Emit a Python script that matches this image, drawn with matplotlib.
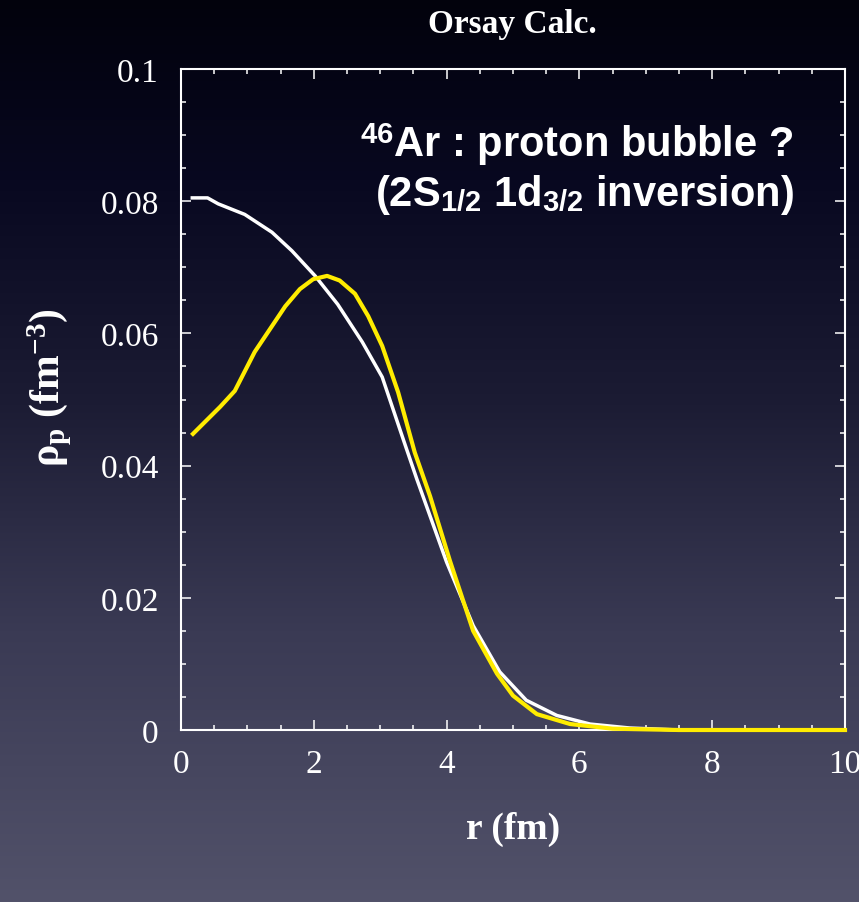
import numpy as np
import matplotlib
matplotlib.use("Agg")
from matplotlib import pyplot as plt
from matplotlib.ticker import MultipleLocator

# radial proton density
r_white = [0.17, 0.4, 0.56, 0.96, 1.37, 1.67, 2.02, 2.36, 2.73, 3.03, 3.38,
           3.55, 4.0, 4.4, 4.8, 5.2, 5.66, 6.16, 6.76, 7.5, 8.5, 10.0]
rho_white = [0.0805, 0.0805, 0.0796, 0.078, 0.0753, 0.0725, 0.0687, 0.0644,
             0.0587, 0.0534, 0.043, 0.038, 0.0254, 0.0158, 0.0088, 0.0045,
             0.0022, 0.0009, 0.0003, 0.0, 0.0, 0.0]

r_yellow = [0.18, 0.59, 0.81, 1.11, 1.37, 1.57, 1.79, 1.99, 2.2, 2.39, 2.62,
            2.82, 3.03, 3.27, 3.52, 3.75, 4.05, 4.4, 4.76, 5.0, 5.36, 5.86,
            6.5, 7.5, 10.0]
rho_yellow = [0.0448, 0.0489, 0.0513, 0.0572, 0.0611, 0.0641, 0.0667, 0.0682,
              0.0687, 0.068, 0.066, 0.0626, 0.0581, 0.0511, 0.042, 0.0354,
              0.0256, 0.0150, 0.0085, 0.0052, 0.0024, 0.0009, 0.0002, 0.0, 0.0]

x_ticks = [0, 2, 4, 6, 8, 10]
y_ticks = [0, 0.02, 0.04, 0.06, 0.08, 0.1]
y_tick_labels = ["0", "0.02", "0.04", "0.06", "0.08", "0.1"]

plt.rcParams["mathtext.fontset"] = "custom"
plt.rcParams["mathtext.rm"] = "Liberation Serif:bold"
plt.rcParams["mathtext.it"] = "Liberation Serif:bold"
plt.rcParams["mathtext.bf"] = "Liberation Serif:bold"
plt.rcParams["mathtext.sf"] = "Liberation Sans:bold"

W, H = 859, 903
fig = plt.figure(figsize=(W / 100, H / 100), dpi=100)

# keynote style background gradient (top dark navy -> bottom grey blue)
bg = fig.add_axes([0, 0, 1, 1], zorder=-10)
pos = [0.0, 0.2, 0.45, 0.7, 1.0]
cols = np.array([[2, 2, 12], [8, 8, 32], [28, 28, 52], [58, 58, 84], [82, 82, 106]]) / 255
t = np.linspace(0, 1, H)
grad = np.stack([np.interp(t, pos, cols[:, k]) for k in range(3)], axis=-1)
bg.imshow(grad[:, None, :], aspect="auto", extent=[0, 1, 0, 1])
bg.set_axis_off()

ax = fig.add_axes([181 / W, 1 - 731 / H, 664 / W, 661 / H])
ax.set_facecolor("none")

ax.plot(r_white, rho_white, color="white", lw=2.5, zorder=3, clip_on=False)
ax.plot(r_yellow, rho_yellow, color="#ffec00", lw=3.0, zorder=4, clip_on=False)

ax.set_xlim(0, 10)
ax.set_ylim(0, 0.1)
ax.set_xticks(x_ticks)
ax.set_xticklabels([str(v) for v in x_ticks])
ax.set_yticks(y_ticks)
ax.set_yticklabels(y_tick_labels)
ax.xaxis.set_minor_locator(MultipleLocator(0.5))
ax.yaxis.set_minor_locator(MultipleLocator(0.005))

for s in ax.spines.values():
    s.set_color("white")
    s.set_linewidth(1.5)
ax.tick_params(which="both", direction="in", colors="white", top=True, right=True,
               width=1.1)
ax.tick_params(which="major", length=7)
ax.tick_params(which="minor", length=3.6)
ax.tick_params(axis="x", which="major", pad=13, labelsize=24)
ax.tick_params(axis="y", which="major", pad=16, labelsize=24)
for lab in ax.get_xticklabels() + ax.get_yticklabels():
    lab.set_family("Liberation Serif")
    lab.set_color("white")

ax.set_xlabel("r (fm)", family="Liberation Serif", weight="bold", fontsize=27,
              color="white")
ax.xaxis.set_label_coords(0.5, (731 - 812) / 661)
ax.set_ylabel(r"$\rho_{\mathrm{p}}$ (fm$^{\mathrm{-3}}$)", family="Liberation Serif",
              weight="bold", fontsize=30, color="white")
ax.yaxis.set_label_coords((74 - 181) / 664, (731 - 388) / 661)

fig.text(512 / W, 1 - 24 / H, "Orsay Calc.", family="Liberation Serif",
         weight="bold", fontsize=24, color="white", ha="center", va="center")

ax.text((577 - 181) / 664, (731 - 145) / 661, r"$^{\mathsf{46}}$Ar : proton bubble ?",
        transform=ax.transAxes, family="Liberation Sans", weight="bold",
        fontsize=30, color="white", ha="center", va="center")
ax.text((584 - 181) / 664, (731 - 195) / 661,
        r"(2S$_{\mathsf{1/2}}$ 1d$_{\mathsf{3/2}}$ inversion)",
        transform=ax.transAxes, family="Liberation Sans", weight="bold",
        fontsize=30, color="white", ha="center", va="center")

fig.savefig("out.png", dpi=100)
